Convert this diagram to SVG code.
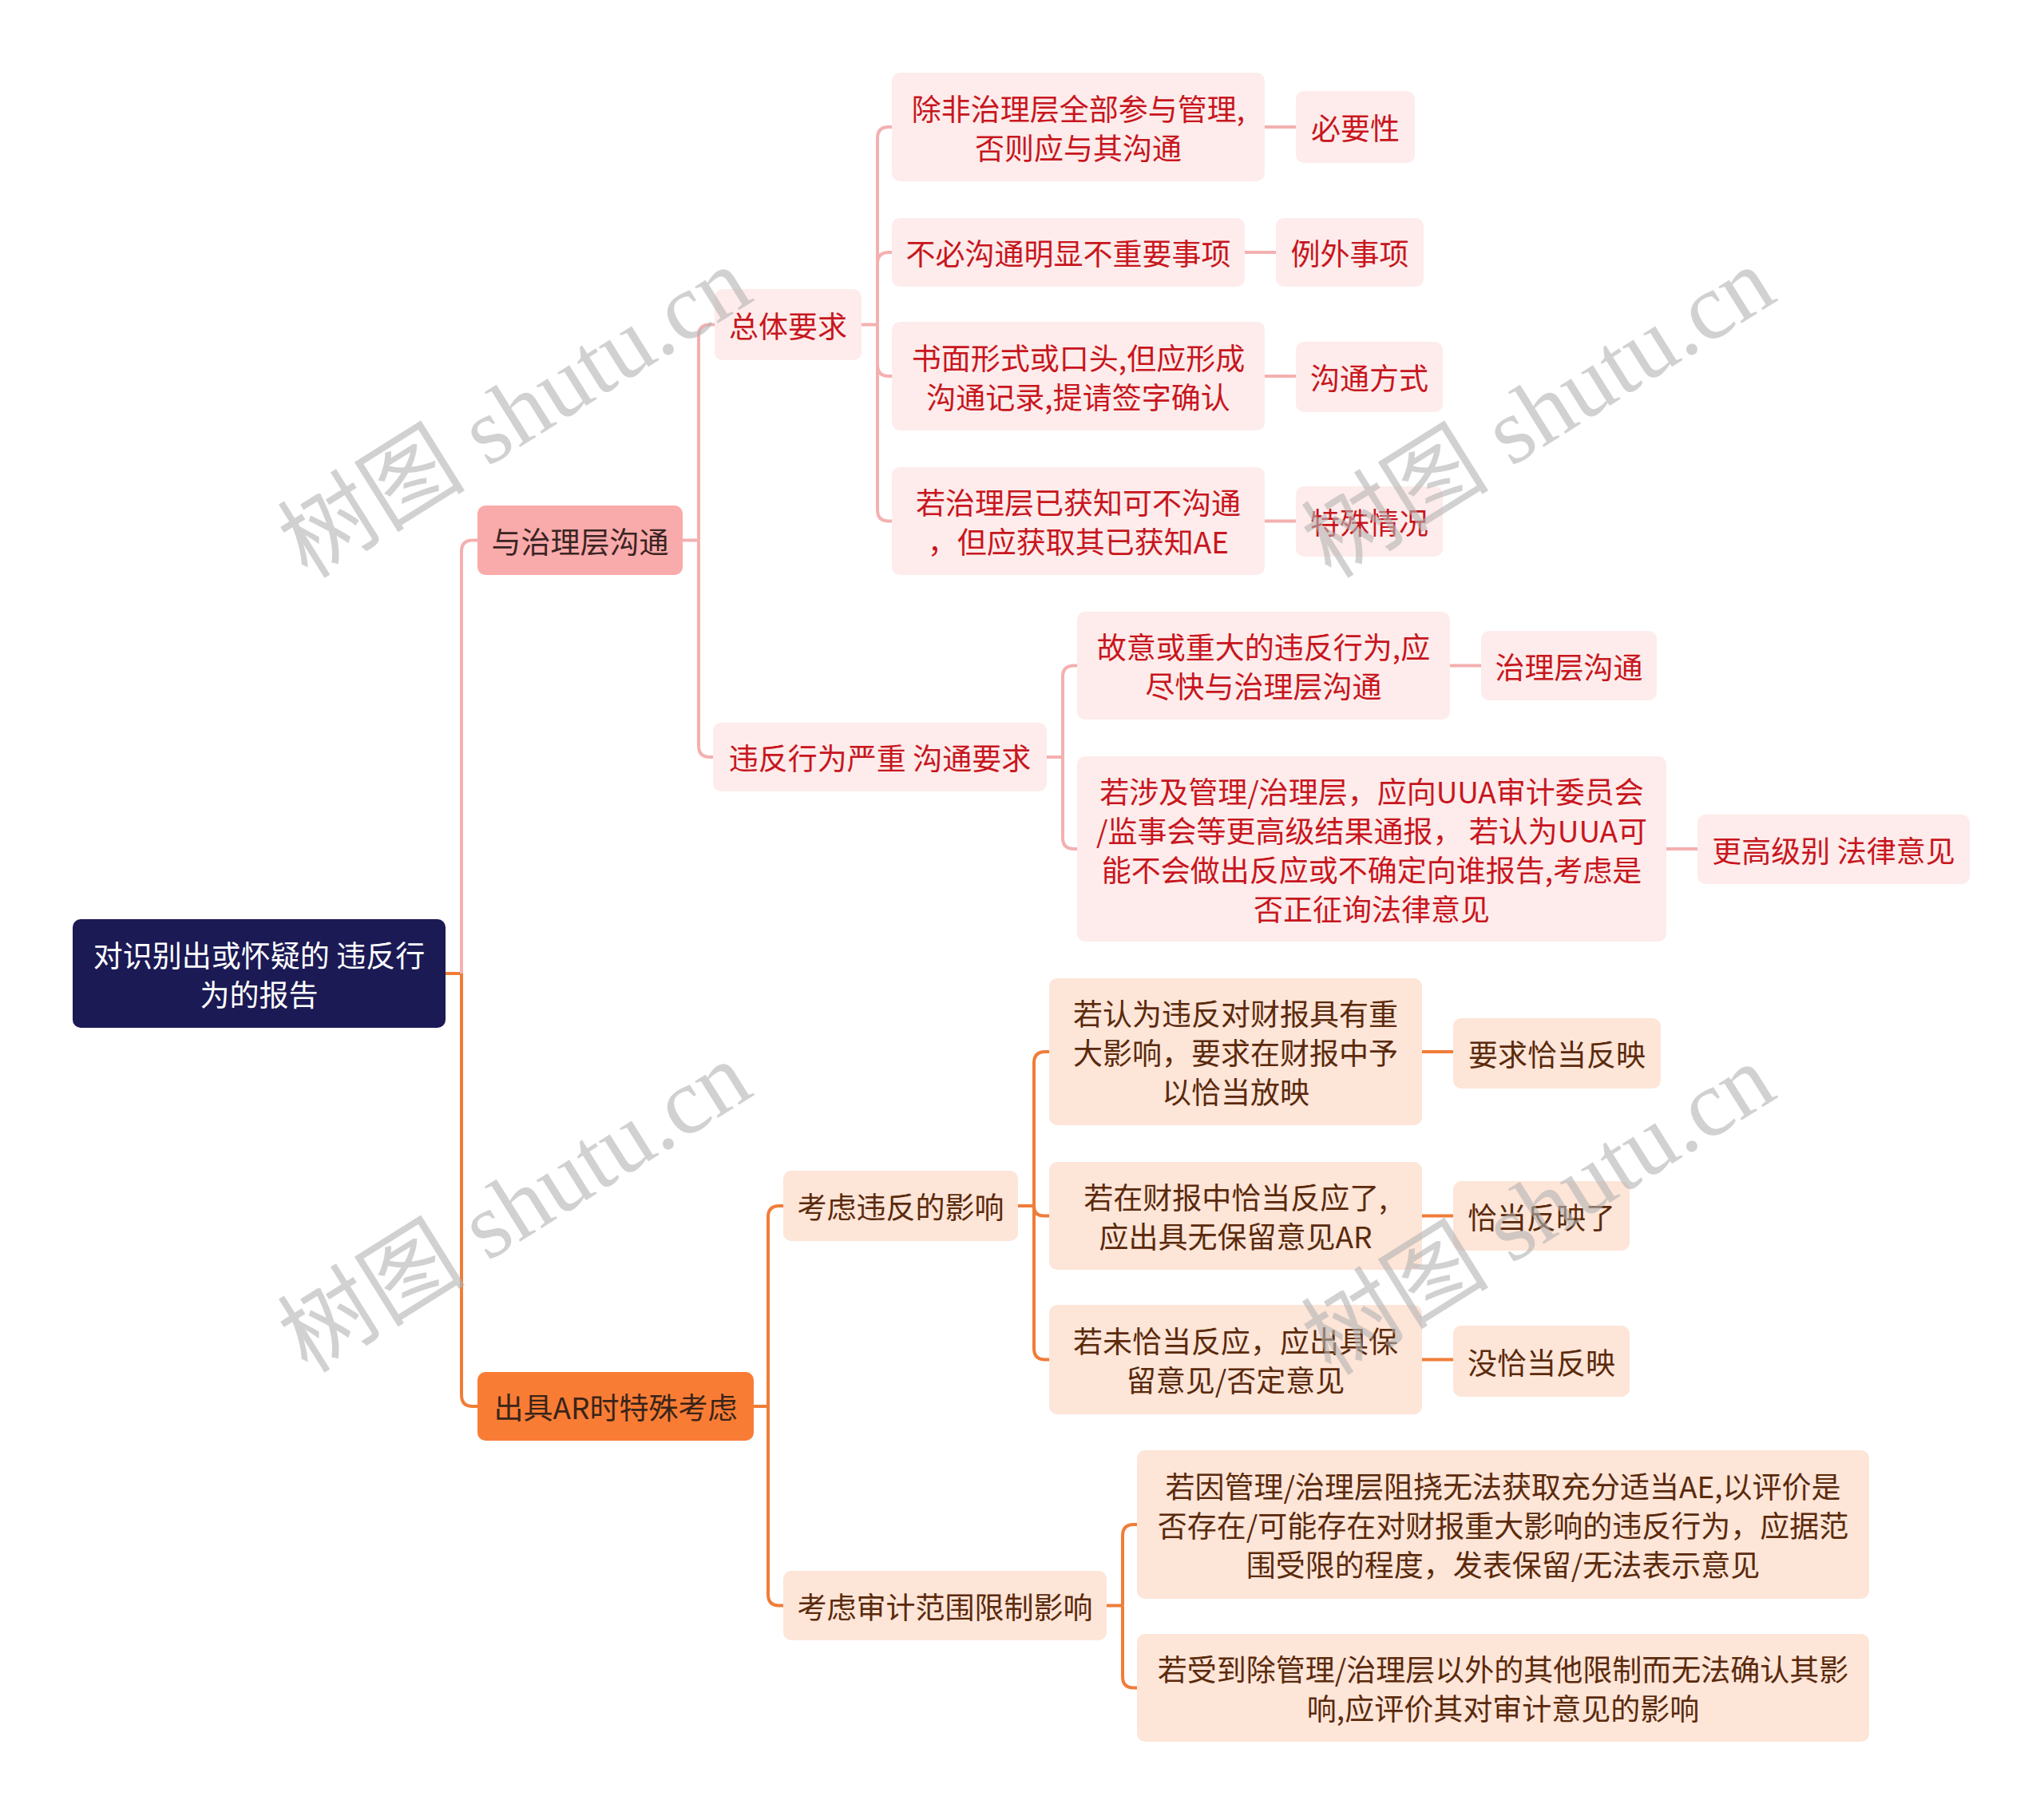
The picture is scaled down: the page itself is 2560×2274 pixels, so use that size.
<svg xmlns="http://www.w3.org/2000/svg" width="2560" height="2274" viewBox="0 0 2560 2274">
<style>
text{font-family:"Noto Sans CJK SC","Noto Sans",sans-serif;font-size:37px;text-anchor:middle;dominant-baseline:central}
.root rect{fill:#1b1a55}
.root text{fill:#ffffff}
.p1 rect{fill:#f9aaaa}
.p1 text{fill:#3a2424}
.o1 rect{fill:#f97c35}
.o1 text{fill:#3a2418}
.pn rect{fill:#fdeceb}
.pn text{fill:#c8161e}
.on rect{fill:#fde5d8}
.on text{fill:#5b2a0c}
.cp{fill:none;stroke:#f4b0b0;stroke-width:4}
.co{fill:none;stroke:#ef7d38;stroke-width:4}
.wm{font-family:"Liberation Serif","Noto Sans CJK SC",serif;font-size:118px;fill:#b4b4b4;opacity:0.6;text-anchor:middle;dominant-baseline:central}
</style>
<rect width="2560" height="2274" fill="#ffffff"/>
<g id="connectors">
<path class="co" d="M558,1219 H578"/>
<path class="cp" d="M578,1219 V690.5 Q578,676.5 592,676.5 H598"/>
<path class="co" d="M578,1219 V1747 Q578,1761 592,1761 H598"/>
<path class="cp" d="M855,676.5 H875"/>
<path class="cp" d="M875,676.5 V420.5 Q875,406.5 889,406.5 H895"/>
<path class="cp" d="M875,676.5 V934 Q875,948 889,948 H893"/>
<path class="cp" d="M1079,406.5 H1099"/>
<path class="cp" d="M1099,406.5 V173 Q1099,159 1113,159 H1117"/>
<path class="cp" d="M1099,406.5 V330 Q1099,316 1113,316 H1117"/>
<path class="cp" d="M1099,406.5 V457 Q1099,471 1113,471 H1117"/>
<path class="cp" d="M1099,406.5 V638.5 Q1099,652.5 1113,652.5 H1117"/>
<path class="cp" d="M1584,159 H1623"/>
<path class="cp" d="M1559,316 H1598"/>
<path class="cp" d="M1584,471 H1623"/>
<path class="cp" d="M1584,652.5 H1623"/>
<path class="cp" d="M1311,948 H1331"/>
<path class="cp" d="M1331,948 V847.5 Q1331,833.5 1345,833.5 H1349"/>
<path class="cp" d="M1331,948 V1049 Q1331,1063 1345,1063 H1349"/>
<path class="cp" d="M1816,833.5 H1855"/>
<path class="cp" d="M2087,1063 H2126"/>
<path class="co" d="M944,1761 H962"/>
<path class="co" d="M962,1761 V1524 Q962,1510 976,1510 H981"/>
<path class="co" d="M962,1761 V1996.5 Q962,2010.5 976,2010.5 H981"/>
<path class="co" d="M1275,1510 H1295"/>
<path class="co" d="M1295,1510 V1331 Q1295,1317 1309,1317 H1314"/>
<path class="co" d="M1295,1510 Q1295,1522.5 1307,1522.5 H1314"/>
<path class="co" d="M1295,1510 V1688.5 Q1295,1702.5 1309,1702.5 H1314"/>
<path class="co" d="M1781,1317 H1820"/>
<path class="co" d="M1781,1522.5 H1820"/>
<path class="co" d="M1781,1702.5 H1820"/>
<path class="co" d="M1386,2010.5 H1406"/>
<path class="co" d="M1406,2010.5 V1923 Q1406,1909 1420,1909 H1424"/>
<path class="co" d="M1406,2010.5 V2099.5 Q1406,2113.5 1420,2113.5 H1424"/>
</g>
<g id="root" class="root"><rect x="91" y="1151" width="467" height="136" rx="10"/><text x="324.5" y="1194.5">对识别出或怀疑的 违反行</text><text x="324.5" y="1243.5">为的报告</text></g>
<g id="n-p1" class="p1"><rect x="598" y="633" width="257" height="87" rx="10"/><text x="726.5" y="676.5">与治理层沟通</text></g>
<g id="n-o1" class="o1"><rect x="598" y="1718" width="346" height="86" rx="10"/><text x="771" y="1761">出具AR时特殊考虑</text></g>
<g id="n-p2a" class="pn"><rect x="895" y="362" width="184" height="89" rx="10"/><text x="987" y="406.5">总体要求</text></g>
<g id="n-p2b" class="pn"><rect x="893" y="905" width="418" height="86" rx="10"/><text x="1102" y="948">违反行为严重 沟通要求</text></g>
<g id="n-p3a" class="pn"><rect x="1117" y="91" width="467" height="136" rx="10"/><text x="1350.5" y="134.5">除非治理层全部参与管理,</text><text x="1350.5" y="183.5">否则应与其沟通</text></g>
<g id="n-p3b" class="pn"><rect x="1117" y="273" width="442" height="86" rx="10"/><text x="1338" y="316">不必沟通明显不重要事项</text></g>
<g id="n-p3c" class="pn"><rect x="1117" y="403" width="467" height="136" rx="10"/><text x="1350.5" y="446.5">书面形式或口头,但应形成</text><text x="1350.5" y="495.5">沟通记录,提请签字确认</text></g>
<g id="n-p3d" class="pn"><rect x="1117" y="585" width="467" height="135" rx="10"/><text x="1350.5" y="628">若治理层已获知可不沟通</text><text x="1350.5" y="677">，但应获取其已获知AE</text></g>
<g id="n-p4a" class="pn"><rect x="1623" y="114" width="149" height="90" rx="10"/><text x="1697.5" y="159">必要性</text></g>
<g id="n-p4b" class="pn"><rect x="1598" y="273" width="185" height="86" rx="10"/><text x="1690.5" y="316">例外事项</text></g>
<g id="n-p4c" class="pn"><rect x="1623" y="428" width="184" height="88" rx="10"/><text x="1715" y="472">沟通方式</text></g>
<g id="n-p4d" class="pn"><rect x="1623" y="609" width="184" height="88" rx="10"/><text x="1715" y="653">特殊情况</text></g>
<g id="n-p3e" class="pn"><rect x="1349" y="766" width="467" height="135" rx="10"/><text x="1582.5" y="809">故意或重大的违反行为,应</text><text x="1582.5" y="858">尽快与治理层沟通</text></g>
<g id="n-p4e" class="pn"><rect x="1855" y="790" width="220" height="87" rx="10"/><text x="1965" y="833.5">治理层沟通</text></g>
<g id="n-p3f" class="pn"><rect x="1349" y="947" width="738" height="232" rx="10"/><text x="1718" y="989.5">若涉及管理/治理层，应向UUA审计委员会</text><text x="1718" y="1038.5">/监事会等更高级结果通报， 若认为UUA可</text><text x="1718" y="1087.5">能不会做出反应或不确定向谁报告,考虑是</text><text x="1718" y="1136.5">否正征询法律意见</text></g>
<g id="n-p4f" class="pn"><rect x="2126" y="1020" width="341" height="87" rx="10"/><text x="2296.5" y="1063.5">更高级别 法律意见</text></g>
<g id="n-o2a" class="on"><rect x="981" y="1466" width="294" height="88" rx="10"/><text x="1128" y="1510">考虑违反的影响</text></g>
<g id="n-o2b" class="on"><rect x="981" y="1967" width="405" height="87" rx="10"/><text x="1183.5" y="2010.5">考虑审计范围限制影响</text></g>
<g id="n-o3a" class="on"><rect x="1314" y="1225" width="467" height="184" rx="10"/><text x="1547.5" y="1268">若认为违反对财报具有重</text><text x="1547.5" y="1317">大影响，要求在财报中予</text><text x="1547.5" y="1366">以恰当放映</text></g>
<g id="n-o4a" class="on"><rect x="1820" y="1275" width="260" height="88" rx="10"/><text x="1950" y="1319">要求恰当反映</text></g>
<g id="n-o3b" class="on"><rect x="1314" y="1455" width="467" height="135" rx="10"/><text x="1547.5" y="1498">若在财报中恰当反应了,</text><text x="1547.5" y="1547">应出具无保留意见AR</text></g>
<g id="n-o4b" class="on"><rect x="1820" y="1479" width="221" height="87" rx="10"/><text x="1930.5" y="1522.5">恰当反映了</text></g>
<g id="n-o3c" class="on"><rect x="1314" y="1634" width="467" height="137" rx="10"/><text x="1547.5" y="1678">若未恰当反应，应出具保</text><text x="1547.5" y="1727">留意见/否定意见</text></g>
<g id="n-o4c" class="on"><rect x="1820" y="1660" width="221" height="89" rx="10"/><text x="1930.5" y="1704.5">没恰当反映</text></g>
<g id="n-o3d" class="on"><rect x="1424" y="1816" width="917" height="186" rx="10"/><text x="1882.5" y="1860">若因管理/治理层阻挠无法获取充分适当AE,以评价是</text><text x="1882.5" y="1909">否存在/可能存在对财报重大影响的违反行为，应据范</text><text x="1882.5" y="1958">围受限的程度，发表保留/无法表示意见</text></g>
<g id="n-o3e" class="on"><rect x="1424" y="2046" width="917" height="135" rx="10"/><text x="1882.5" y="2089">若受到除管理/治理层以外的其他限制而无法确认其影</text><text x="1882.5" y="2138">响,应评价其对审计意见的影响</text></g>
<g id="watermarks">
<text class="wm" transform="translate(645,517) rotate(-32)">树图 shutu.cn</text>
<text class="wm" transform="translate(1927,517) rotate(-32)">树图 shutu.cn</text>
<text class="wm" transform="translate(645,1512) rotate(-32)">树图 shutu.cn</text>
<text class="wm" transform="translate(1927,1515) rotate(-32)">树图 shutu.cn</text>
</g>
</svg>
